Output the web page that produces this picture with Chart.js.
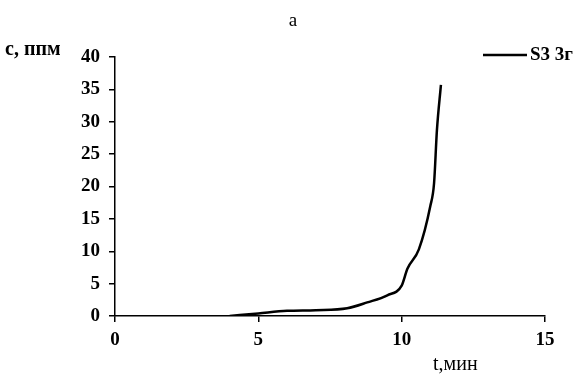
<!DOCTYPE html>
<html>
<head>
<meta charset="utf-8">
<script src="https://cdn.jsdelivr.net/npm/chart.js@4"></script>
<style>
  html, body { margin: 0; padding: 0; background: #fff; }
  #wrap { width: 582px; height: 377px; }
</style>
</head>
<body>
<div id="wrap"><canvas id="chart" width="582" height="377"></canvas></div>
<script>
// время, мин
const tValues = [4.0, 5.0, 6.0, 7.0, 8.1, 8.8, 9.5, 10.0, 10.2, 10.6, 11.0, 11.13, 11.23, 11.37];
// концентрация, ппм
const cValues = [0, 0.4, 0.8, 0.9, 1.2, 2.1, 3.2, 4.7, 7.3, 10.3, 17.0, 20.5, 28.7, 35.7];
const xTicks = [0, 5, 10, 15];
const yTicks = [0, 5, 10, 15, 20, 25, 30, 35, 40];

const seriesName = 'S3 3г';
const chartTitle = 'а';
const xTitle = 't,мин';
const yTitle = 'с, ппм';

const FONT = "'Liberation Serif', 'Times New Roman', serif";

const points = tValues.map((t, i) => ({ x: t, y: cValues[i] }));

// подписи осей, заголовок и легенда
const labelsPlugin = {
    id: 'labels',
    afterDraw(chart) {
        const ctx = chart.ctx;
        ctx.save();
        ctx.fillStyle = '#000';
        ctx.textBaseline = 'middle';

        ctx.font = '19px ' + FONT;
        ctx.textAlign = 'center';
        ctx.fillText(chartTitle, 293, 21);

        ctx.font = 'bold 20px ' + FONT;
        ctx.textAlign = 'left';
        ctx.fillText(yTitle, 5, 50);

        ctx.font = '20px ' + FONT;
        ctx.fillText(xTitle, 433, 365);

        // легенда
        ctx.strokeStyle = '#000';
        ctx.lineWidth = 2.5;
        ctx.beginPath();
        ctx.moveTo(483, 55);
        ctx.lineTo(527, 55);
        ctx.stroke();
        ctx.font = 'bold 19px ' + FONT;
        ctx.fillText(seriesName, 530, 55);
        ctx.restore();
    }
};

new Chart(document.getElementById('chart'), {
    type: 'line',
    data: {
        datasets: [{
            label: seriesName,
            data: points,
            borderColor: '#000',
            borderWidth: 2.5,
            pointRadius: 0,
            cubicInterpolationMode: 'monotone',
            fill: false
        }]
    },
    options: {
        responsive: false,
        animation: false,
        layout: { padding: { top: 57, right: 37, left: 0, bottom: 0 } },
        plugins: {
            legend: { display: false },
            title: { display: false },
            tooltip: { enabled: false }
        },
        scales: {
            x: {
                type: 'linear',
                min: 0,
                max: 15,
                afterFit(scale) { scale.height = 61; },
                afterBuildTicks(scale) { scale.ticks = xTicks.map(v => ({ value: v })); },
                border: { color: '#000', width: 1.5 },
                grid: { drawOnChartArea: false, drawTicks: true, tickLength: 6, color: '#000', lineWidth: 1.5 },
                ticks: { color: '#000', padding: 7, maxRotation: 0, font: { family: FONT, size: 19, weight: 'bold' } }
            },
            y: {
                min: 0,
                max: 40,
                afterFit(scale) { scale.width = 115; },
                afterBuildTicks(scale) { scale.ticks = yTicks.map(v => ({ value: v })); },
                border: { color: '#000', width: 1.5 },
                grid: { drawOnChartArea: false, drawTicks: true, tickLength: 6, color: '#000', lineWidth: 1.5 },
                ticks: { color: '#000', padding: 9, font: { family: FONT, size: 19, weight: 'bold' } }
            }
        }
    },
    plugins: [labelsPlugin]
});
</script>
</body>
</html>
